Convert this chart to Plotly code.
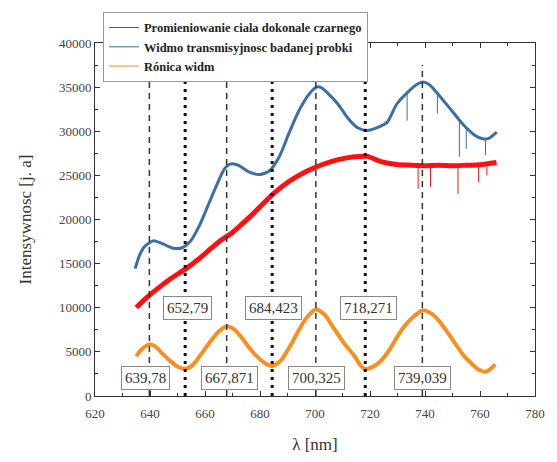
import plotly.graph_objects as go

# Wavelength grid [nm] and intensities [a.u.] for each spectrum
red_x = [635, 639, 643.9, 648, 653.1, 658, 662.7, 666, 669.9, 673.5, 677, 679.9, 684.8, 690.5,
         696.6, 702.7, 708.4, 714.4, 719, 724, 729.7, 735, 740, 745, 750, 755, 760, 766]
red_y = [10030, 11200, 12450, 13400, 14430, 15600, 16860, 17700, 18510, 19500, 20500, 21400, 22900, 24300,
         25400, 26230, 26780, 27110, 27150, 26560, 26230, 26150, 26100, 26150, 26100, 26150, 26200, 26450]

blue_x = [634.6, 636, 637.8, 640, 641.4, 644.9, 648.5, 651.7, 654.6, 658.1, 661.7, 665.2, 667, 668.8,
          670.5, 672.4, 675.9, 679.9, 683.4, 687, 690.5, 694.1, 697.7, 700, 701.2, 702.5, 704.8, 708.4,
          711.9, 715.5, 719, 722.6, 726.2, 729.7, 734.7, 737, 739.3, 741.5, 744, 749, 753.6, 758.2,
          761, 763.2, 766.1]
blue_y = [14430, 15800, 16860, 17400, 17600, 17200, 16750, 16800, 17500, 19390, 22040, 24570, 25700, 26230,
          26300, 26100, 25400, 25100, 25500, 27110, 29750, 32290, 34160, 34900, 35040, 34900, 34270, 33060,
          31510, 30400, 30080, 30400, 31000, 33060, 34710, 35300, 35590, 35300, 34490, 32620, 30850, 29530,
          29150, 29200, 29900]

orange_x = [635, 637, 639.8, 642, 644.5, 647.4, 650, 652.8, 655.5, 659.2, 662, 665, 667.9, 670.8,
            673.4, 676, 678.5, 681.5, 684.4, 687.5, 691.2, 694, 697, 700.3, 703.5, 707, 710.5, 714.4,
            716.5, 718.3, 721, 724, 727, 729.7, 732.5, 735.5, 739, 742.5, 745.4, 748, 751.1, 754,
            757.2, 759.5, 761.8, 764, 765.5]
orange_y = [4500, 5300, 5850, 5600, 4800, 3950, 3350, 3080, 3500, 5000, 6200, 7300, 7900, 7500,
            6600, 5500, 4600, 3800, 3400, 4000, 5800, 7400, 8900, 9800, 9200, 7600, 6000, 4500,
            3500, 3050, 3300, 4000, 5200, 6600, 7900, 8900, 9700, 9300, 8400, 7300, 5900, 4600,
            3600, 3000, 2750, 3100, 3600]

# Narrow dropouts in the recorded spectra: wavelength, level before the dip, lowest level
blue_dip_x = [733.5, 744.5, 752.5, 755.0, 762.0]
blue_dip_top = [34300, 34300, 31270, 30450, 29200]
blue_dip_bottom = [31200, 32000, 27100, 28000, 27300]
red_dip_x = [737.5, 742.0, 752.0, 759.5, 762.5]
red_dip_top = [26100, 26100, 26100, 26150, 26250]
red_dip_bottom = [23500, 23700, 22900, 24200, 25000]

# Extremum positions of the difference spectrum [nm]
maxima = [639.78, 667.871, 700.325, 739.039]
minima = [652.79, 684.423, 718.271]
max_labels = ["639,78", "667,871", "700,325", "739,039"]
min_labels = ["652,79", "684,423", "718,271"]
max_label_x = [638.2, 668.8, 700.5, 739.0]
min_label_x = [653.8, 684.8, 719.4]
max_label_y = 2000
min_label_y = 10000
line_top = 37500

names = ["Promieniowanie ciala dokonale czarnego",
         "Widmo transmisyjnosc badanej probki",
         "Rónica widm"]
RED, BLUE, ORANGE = "#ff1010", "#3b6fa8", "#f7901e"
SERIF = "Liberation Serif"

fig = go.Figure()


def dips(xs, tops, bottoms):
    px, py = [], []
    for x, t, b in zip(xs, tops, bottoms):
        px += [x, x, None]
        py += [t, b, None]
    return px, py


bx, by = dips(blue_dip_x, blue_dip_top, blue_dip_bottom)
rx, ry = dips(red_dip_x, red_dip_top, red_dip_bottom)

fig.add_trace(go.Scatter(x=blue_x, y=blue_y, mode="lines",
                         line=dict(color=BLUE, width=3, shape="spline", smoothing=0.7),
                         showlegend=False, hoverinfo="skip"))
fig.add_trace(go.Scatter(x=bx, y=by, mode="lines", line=dict(color=BLUE, width=1),
                         showlegend=False, hoverinfo="skip"))
fig.add_trace(go.Scatter(x=red_x, y=red_y, mode="lines",
                         line=dict(color=RED, width=5, shape="spline", smoothing=0.7),
                         showlegend=False, hoverinfo="skip"))
fig.add_trace(go.Scatter(x=rx, y=ry, mode="lines", line=dict(color=RED, width=1),
                         showlegend=False, hoverinfo="skip"))
fig.add_trace(go.Scatter(x=orange_x, y=orange_y, mode="lines",
                         line=dict(color=ORANGE, width=4, shape="spline", smoothing=0.7),
                         showlegend=False, hoverinfo="skip"))

# Legend entries with thin line samples
for nm, col in zip(names, [RED, BLUE, ORANGE]):
    fig.add_trace(go.Scatter(x=[None], y=[None], mode="lines", name=nm,
                             line=dict(color=col, width=1)))

shapes = []
for x in maxima:
    shapes.append(dict(type="line", xref="x", yref="y", x0=x, x1=x, y0=0, y1=line_top,
                       line=dict(color="#333", width=1.5, dash="6px,5px")))
for x in minima:
    shapes.append(dict(type="line", xref="x", yref="y", x0=x, x1=x, y0=0, y1=line_top,
                       line=dict(color="#111", width=3, dash="3px,5px")))

annotations = []
for lx, txt in zip(max_label_x, max_labels):
    annotations.append(dict(x=lx, y=max_label_y, xref="x", yref="y", text=txt, showarrow=False,
                            bgcolor="white", bordercolor="#888", borderwidth=1, borderpad=3,
                            font=dict(family=SERIF, size=15, color="#333")))
for lx, txt in zip(min_label_x, min_labels):
    annotations.append(dict(x=lx, y=min_label_y, xref="x", yref="y", text=txt, showarrow=False,
                            bgcolor="white", bordercolor="#888", borderwidth=1, borderpad=3,
                            font=dict(family=SERIF, size=15, color="#333")))

axis_common = dict(showline=True, linecolor="#333", linewidth=1, mirror="ticks", ticks="inside",
                   ticklen=5, tickcolor="#333", showgrid=False, zeroline=False,
                   tickfont=dict(family=SERIF, size=13, color="#444"))

fig.update_layout(
    width=557, height=462,
    margin=dict(l=95, r=13, t=40, b=59),
    paper_bgcolor="white", plot_bgcolor="white",
    shapes=shapes, annotations=annotations,
    xaxis=dict(range=[620, 780], dtick=20, tick0=620, ticklabelstandoff=5,
               minor=dict(dtick=10, ticks="inside", ticklen=3, tickcolor="#333"),
               title=dict(text="λ [nm]", font=dict(family=SERIF, size=17, color="#333"), standoff=18),
               **axis_common),
    yaxis=dict(range=[0, 40000], dtick=5000, tickformat="d",
               minor=dict(dtick=2500, ticks="inside", ticklen=3, tickcolor="#333"),
               title=dict(text="Intensywnosc [j. a]", font=dict(family=SERIF, size=17, color="#333"), standoff=22),
               **axis_common),
    legend=dict(x=0.018, y=1.088, xanchor="left", yanchor="top", bgcolor="white",
                bordercolor="#999", borderwidth=1, tracegroupgap=2,
                font=dict(family=SERIF, size=12.5, color="#222", weight="bold")),
)

fig.write_html("out.html")
